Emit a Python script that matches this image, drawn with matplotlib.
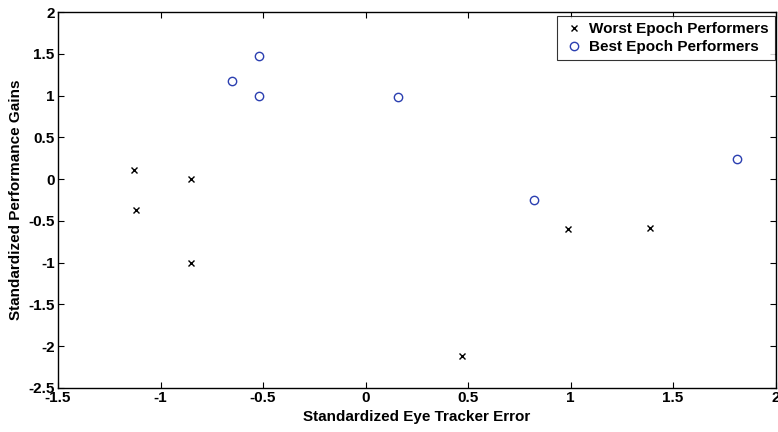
import matplotlib

matplotlib.use("Agg")
import matplotlib.pyplot as plt

plt.rcParams["font.family"] = ["Liberation Sans", "DejaVu Sans"]
plt.rcParams["font.weight"] = "bold"

worst_x = [-1.13, -1.12, -0.85, -0.85, 0.47, 0.99, 1.39]
worst_y = [0.11, -0.37, 0.0, -1.0, -2.12, -0.60, -0.58]
best_x = [-0.65, -0.52, -0.52, 0.16, 0.82, 1.81]
best_y = [1.18, 1.47, 0.99, 0.98, -0.25, 0.24]

x_ticks = [-1.5, -1, -0.5, 0, 0.5, 1, 1.5, 2]
y_ticks = [-2.5, -2, -1.5, -1, -0.5, 0, 0.5, 1, 1.5, 2]

fig = plt.figure(figsize=(7.78, 4.32), dpi=100)
ax = fig.add_axes([0.0746, 0.1019, 0.9222, 0.8703])

ax.plot(worst_x, worst_y, linestyle="none", marker="x", color="black",
        markersize=3.8, markeredgewidth=1.0, label="Worst Epoch Performers")
ax.plot(best_x, best_y, linestyle="none", marker="o", markerfacecolor="none",
        markeredgecolor="#2b3fb0", markersize=6, markeredgewidth=1.0,
        label="Best Epoch Performers")

ax.set_xlim(-1.5, 2)
ax.set_ylim(-2.5, 2)
ax.set_xticks(x_ticks)
ax.set_yticks(y_ticks)
ax.set_xticklabels([f"{v:g}" for v in x_ticks])
ax.set_yticklabels([f"{v:g}" for v in y_ticks])
ax.tick_params(direction="in", top=True, right=True, length=4.5, width=0.8,
               labelsize=11, pad=2.5)
for spine in ax.spines.values():
    spine.set_linewidth(1.0)

ax.set_xlabel("Standardized Eye Tracker Error", fontsize=11, fontweight="bold",
              labelpad=3)
ax.set_ylabel("Standardized Performance Gains", fontsize=11, fontweight="bold",
              labelpad=4)

leg = ax.legend(loc="upper right", bbox_to_anchor=(775 / 778, 1 - 16 / 432),
                bbox_transform=fig.transFigure, fontsize=11, frameon=True,
                fancybox=False, edgecolor="black", borderaxespad=0.0,
                handletextpad=0.26, handlelength=1.44, borderpad=0.4,
                labelspacing=0.25)
leg.get_frame().set_linewidth(0.8)
for t in leg.get_texts():
    t.set_fontweight("bold")

fig.savefig("out.png", dpi=100)
